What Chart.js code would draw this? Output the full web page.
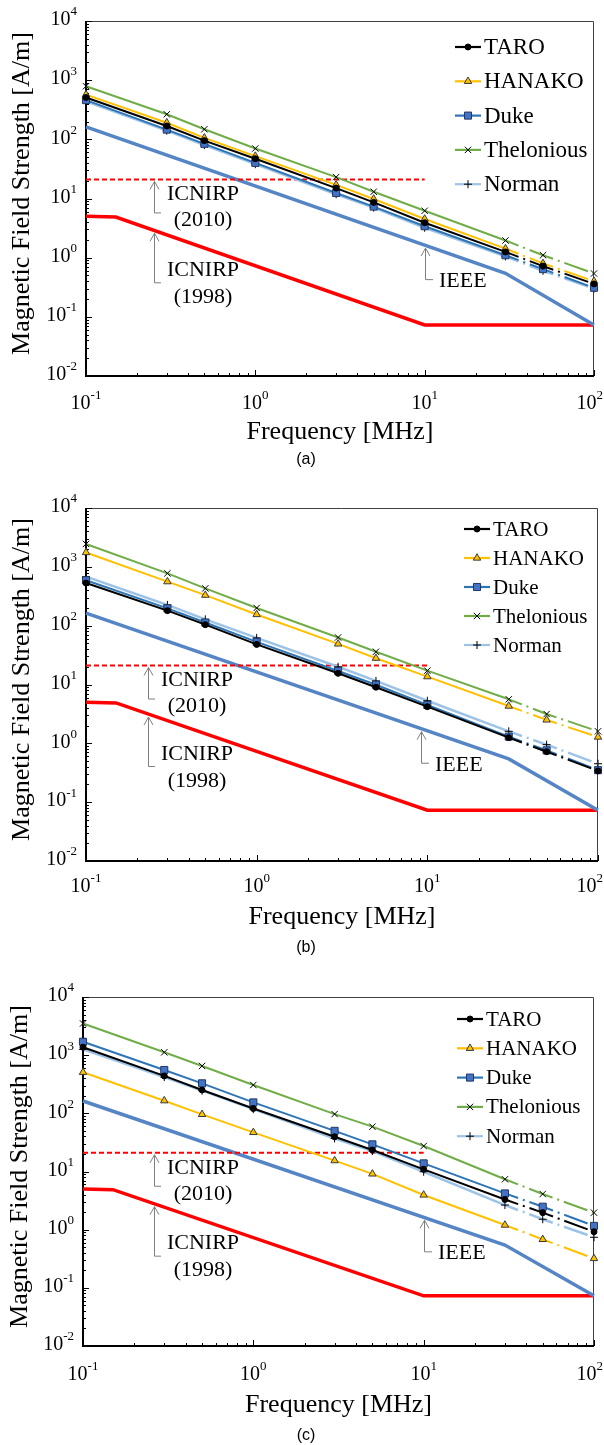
<!DOCTYPE html>
<html>
<head>
<meta charset="utf-8">
<script src="https://cdn.jsdelivr.net/npm/chart.js@4/dist/chart.umd.min.js"></script>
<style>
body { margin: 0; background: #fff; width: 604px; height: 1445px; overflow: hidden; }
.panel { position: absolute; left: 0; width: 604px; }
canvas { display: block; }
</style>
</head>
<body>
<div class="panel" style="top:0"><canvas id="chartA" width="604" height="480"></canvas></div>
<div class="panel" style="top:480px"><canvas id="chartB" width="604" height="480"></canvas></div>
<div class="panel" style="top:960px"><canvas id="chartC" width="604" height="485"></canvas></div>
<script>
// frequencies (MHz) of the measured points
const freq = [0.1, 0.3, 0.5, 1, 3, 5, 10, 30, 50, 100];
const seriesNames = ['TARO', 'HANAKO', 'Duke', 'Thelonious', 'Norman'];

// (a)
const taroA   = [510, 168, 95, 47, 15, 8.6, 3.9, 1.25, 0.72, 0.36];
const hanakoA = [570, 191, 106, 52, 17, 9.8, 4.5, 1.42, 0.80, 0.40];
const dukeA   = [460, 146, 84, 40, 12.4, 7.3, 3.4, 1.1, 0.64, 0.31];
const thelA   = [790, 265, 148, 70, 23, 13, 6.2, 1.95, 1.1, 0.54];
const normanA = [440, 140, 80, 38, 11.8, 7, 3.2, 1.05, 0.6, 0.3];
// (b)
const taroB   = [530, 180, 104, 48, 15.5, 9, 4.2, 1.25, 0.72, 0.34];
const hanakoB = [1750, 560, 330, 155, 49, 28, 13.6, 4.3, 2.5, 1.28];
const dukeB   = [590, 197, 113, 53, 17, 9.9, 4.5, 1.3, 0.76, 0.35];
const thelB   = [2450, 775, 430, 200, 63, 36, 17.2, 5.6, 3.15, 1.6];
const normanB = [680, 225, 128, 62, 20, 11.5, 5.3, 1.6, 0.95, 0.45];
// (c)
const taroC   = [1370, 440, 252, 121, 39.5, 23.4, 10.9, 3.3, 1.96, 0.92];
const hanakoC = [508, 165, 96, 47, 15.4, 9.1, 3.95, 1.2, 0.68, 0.32];
const dukeC   = [1700, 556, 328, 154, 50, 29.3, 13.8, 4.2, 2.48, 1.16];
const thelC   = [3500, 1120, 652, 307, 97, 59, 27.4, 7.35, 4.1, 1.96];
const normanC = [1260, 420, 245, 118, 37, 22.5, 9.9, 2.65, 1.51, 0.74];

// exposure limits
const ieeeX = [0.1, 30, 100];
const ieeeY = [163, 0.543, 0.0728];
const icnirp98X = [0.1, 0.15, 10, 100];
const icnirp98Y = [5, 4.87, 0.073, 0.073];
const icnirp10X = [0.1, 10];
const icnirp10Y = [21, 21];

const xDecades = [-1, 0, 1, 2];
const yDecades = [-2, -1, 0, 1, 2, 3, 4];

const SERIF = '"Liberation Serif", "Times New Roman", serif';

const seriesStyle = [
  { color: '#000000', point: 'circle',   r: 3,   fill: '#000000', edge: '#000000' },
  { color: '#FFC000', point: 'triangle', r: 4.3, fill: '#FFC000', edge: '#3a3a3a' },
  { color: '#2E75B6', point: 'rect',     r: 5,   fill: '#4472C4', edge: '#1F3864' },
  { color: '#70AD47', point: 'crossRot', r: 4.5, fill: '#000000', edge: '#000000' },
  { color: '#9DC3E6', point: 'cross',    r: 4,   fill: '#000000', edge: '#000000' }
];

const panels = [
  { id: 'chartA', h: 480, top: 21, bottom: 376, left: 86, right: 594, series: [taroA, hanakoA, dukeA, thelA, normanA],
    tickY: 404, titleY: 432, capY: 460, cap: '(a)', yTitleX: 22,
    legX: 455, legY: 47, legGap: 34.3, legFont: 23, arrowF: 0.252, ieeeF: 10 },
  { id: 'chartB', h: 480, top: 28, bottom: 381, left: 86, right: 599, series: [taroB, hanakoB, dukeB, thelB, normanB],
    tickY: 407, titleY: 437, capY: 468, cap: '(b)', yTitleX: 22,
    legX: 464, legY: 49, legGap: 29, legFont: 21, arrowF: 0.232, ieeeF: 9.2 },
  { id: 'chartC', h: 485, top: 37, bottom: 386, left: 83, right: 594, series: [taroC, hanakoC, dukeC, thelC, normanC],
    tickY: 415, titleY: 445, capY: 476, cap: '(c)', yTitleX: 20.5,
    legX: 457, legY: 59, legGap: 29.3, legFont: 21, arrowF: 0.261, ieeeF: 10 }
];

function pts(xs, ys) {
  return xs.map((x, i) => ({ x: x, y: ys[i] }));
}

// value of a polyline (log-log) at f, used to place the arrows
function logInterp(xs, ys, f) {
  for (let i = 0; i < xs.length - 1; i++) {
    if (f >= xs[i] && f <= xs[i + 1]) {
      const t = (Math.log10(f) - Math.log10(xs[i])) / (Math.log10(xs[i + 1]) - Math.log10(xs[i]));
      return Math.pow(10, Math.log10(ys[i]) + t * (Math.log10(ys[i + 1]) - Math.log10(ys[i])));
    }
  }
  return ys[ys.length - 1];
}

function drawPow(ctx, exp, x, y, align) {
  ctx.font = '20px ' + SERIF;
  const w1 = ctx.measureText('10').width;
  ctx.font = '13px ' + SERIF;
  const w2 = ctx.measureText(exp).width;
  let x0 = align === 'right' ? x - w1 - w2 : x - (w1 + w2) / 2;
  if (x0 + w1 + w2 > 603) x0 = 603 - w1 - w2; // keep the last label inside the page
  ctx.textAlign = 'left';
  ctx.textBaseline = 'middle';
  ctx.fillStyle = '#000';
  ctx.font = '20px ' + SERIF;
  ctx.fillText('10', x0, y);
  ctx.font = '13px ' + SERIF;
  ctx.fillText(exp, x0 + w1, y - 8);
}

function drawArrow(ctx, ax, tip, bottom, leg) {
  ctx.save();
  ctx.strokeStyle = '#7f7f7f';
  ctx.lineWidth = 1;
  ctx.beginPath();
  ctx.moveTo(ax + 0.5, tip);
  ctx.lineTo(ax + 0.5, bottom + 0.5);
  ctx.lineTo(ax + leg, bottom + 0.5);
  ctx.moveTo(ax - 4, tip + 8);
  ctx.lineTo(ax + 0.5, tip);
  ctx.lineTo(ax + 5, tip + 8);
  ctx.stroke();
  ctx.restore();
}

function makePlugin(p) {
  return {
    id: 'decor',
    beforeDatasetsDraw(chart) {
      const ctx = chart.ctx;
      const a = chart.chartArea;
      const xs = chart.scales.x, ys = chart.scales.y;
      ctx.save();
      // thin top/right frame
      ctx.strokeStyle = '#404040';
      ctx.lineWidth = 1;
      ctx.beginPath();
      ctx.moveTo(a.left, a.top + 0.5);
      ctx.lineTo(a.right - 0.5, a.top + 0.5);
      ctx.lineTo(a.right - 0.5, a.bottom);
      ctx.stroke();
      // inward ticks
      ctx.strokeStyle = '#000';
      ctx.beginPath();
      yDecades.forEach(k => {
        for (let m = 1; m <= 9; m++) {
          if (k === 4 && m > 1) break;
          const y = Math.round(ys.getPixelForValue(m * Math.pow(10, k))) + 0.5;
          const len = m === 1 ? 6 : 3;
          ctx.moveTo(a.left, y);
          ctx.lineTo(a.left + len, y);
        }
      });
      xDecades.forEach(k => {
        for (let m = 1; m <= 9; m++) {
          if (k === 2 && m > 1) break;
          const x = Math.round(xs.getPixelForValue(m * Math.pow(10, k))) + 0.5;
          const len = m === 1 ? 6 : 3;
          ctx.moveTo(x, a.bottom);
          ctx.lineTo(x, a.bottom - len);
        }
      });
      ctx.stroke();
      // main axes
      ctx.lineWidth = 2;
      ctx.beginPath();
      ctx.moveTo(a.left, a.top);
      ctx.lineTo(a.left, a.bottom);
      ctx.lineTo(a.right, a.bottom);
      ctx.stroke();
      ctx.restore();
    },
    afterDatasetsDraw(chart) {
      const ctx = chart.ctx;
      const a = chart.chartArea;
      const xs = chart.scales.x, ys = chart.scales.y;
      ctx.save();
      // tick labels
      yDecades.forEach(k => drawPow(ctx, String(k), a.left - 9, ys.getPixelForValue(Math.pow(10, k)) - 1, 'right'));
      xDecades.forEach(k => drawPow(ctx, String(k), xs.getPixelForValue(Math.pow(10, k)), p.tickY, 'center'));
      // axis titles
      ctx.fillStyle = '#000';
      ctx.textAlign = 'center';
      ctx.textBaseline = 'middle';
      ctx.font = '26px ' + SERIF;
      ctx.fillText('Frequency [MHz]', (a.left + a.right) / 2, p.titleY);
      ctx.save();
      ctx.translate(p.yTitleX, (a.top + a.bottom) / 2 - 5);
      ctx.rotate(-Math.PI / 2);
      ctx.fillText('Magnetic Field Strength [A/m]', 0, 0);
      ctx.restore();
      ctx.font = '16px "Liberation Sans", Arial, sans-serif';
      ctx.fillText(p.cap, 306, p.capY);

      // legend
      seriesNames.forEach((name, i) => {
        const s = seriesStyle[i];
        const y = p.legY + i * p.legGap;
        ctx.strokeStyle = s.color;
        ctx.lineWidth = 2.2;
        ctx.beginPath();
        ctx.moveTo(p.legX, y);
        ctx.lineTo(p.legX + 26, y);
        ctx.stroke();
        ctx.fillStyle = s.fill;
        ctx.strokeStyle = s.edge;
        ctx.lineWidth = 1;
        Chart.helpers.drawPoint(ctx, { pointStyle: s.point, radius: s.r, rotation: 0, borderWidth: 1 }, p.legX + 13, y);
        ctx.fillStyle = '#000';
        ctx.textAlign = 'left';
        ctx.textBaseline = 'middle';
        ctx.font = p.legFont + 'px ' + SERIF;
        ctx.fillText(name, p.legX + 29, y + 1);
      });

      // annotations
      ctx.font = '22px ' + SERIF;
      ctx.fillStyle = '#000';
      ctx.textBaseline = 'middle';
      const ax = Math.round(xs.getPixelForValue(p.arrowF));
      let tip = ys.getPixelForValue(icnirp10Y[0]) + 2;
      drawArrow(ctx, ax, tip, tip + 31, 7);
      ctx.textAlign = 'center';
      ctx.fillText('ICNIRP', ax + 49, tip + 13);
      ctx.fillText('(2010)', ax + 49, tip + 39);

      tip = ys.getPixelForValue(logInterp(icnirp98X, icnirp98Y, p.arrowF)) + 3;
      drawArrow(ctx, ax, tip, tip + 49, 7);
      ctx.fillText('ICNIRP', ax + 49, tip + 37);
      ctx.fillText('(1998)', ax + 49, tip + 64);

      const ix = Math.round(xs.getPixelForValue(p.ieeeF));
      tip = ys.getPixelForValue(logInterp(ieeeX, ieeeY, p.ieeeF)) + 3;
      drawArrow(ctx, ix, tip, tip + 31, 8);
      ctx.textAlign = 'left';
      ctx.fillText('IEEE', ix + 14, tip + 33);
      ctx.restore();
    }
  };
}

const dashSeg = {
  borderDash: c => (c.p0.parsed.x >= 29 ? [25, 5, 2, 5] : undefined),
  borderDashOffset: c => (c.p0.parsed.x >= 29 ? 11 : undefined)
};

panels.forEach(p => {
  const datasets = p.series.map((vals, i) => {
    const s = seriesStyle[i];
    return {
      label: seriesNames[i],
      data: pts(freq, vals),
      borderColor: s.color,
      borderWidth: i === 4 ? 2.5 : 2,
      pointStyle: s.point,
      pointRadius: s.r,
      pointBackgroundColor: s.fill,
      pointBorderColor: s.edge,
      pointBorderWidth: 1,
      segment: dashSeg,
      clip: false,
      tension: 0
    };
  });
  datasets.push({
    label: 'ICNIRP (2010)', data: pts(icnirp10X, icnirp10Y), borderColor: '#FF0000',
    borderWidth: 2, borderDash: [5, 3], pointRadius: 0, clip: false
  });
  datasets.push({
    label: 'IEEE', data: pts(ieeeX, ieeeY), borderColor: '#5585C5',
    borderWidth: 3.5, pointRadius: 0, clip: false
  });
  datasets.push({
    label: 'ICNIRP (1998)', data: pts(icnirp98X, icnirp98Y), borderColor: '#FF0000',
    borderWidth: 3.5, pointRadius: 0, clip: false
  });

  new Chart(document.getElementById(p.id), {
    type: 'line',
    data: { datasets: datasets },
    options: {
      responsive: false,
      animation: false,
      events: [],
      layout: { padding: { top: p.top, right: 604 - p.right, left: 0, bottom: 0 } },
      plugins: { legend: { display: false }, tooltip: { enabled: false } },
      scales: {
        x: {
          type: 'logarithmic', min: 0.1, max: 100,
          ticks: { display: false }, grid: { display: false }, border: { display: false },
          afterFit: s => { s.height = p.h - p.bottom; }
        },
        y: {
          type: 'logarithmic', min: 0.01, max: 10000,
          ticks: { display: false }, grid: { display: false }, border: { display: false },
          afterFit: s => { s.width = p.left; }
        }
      }
    },
    plugins: [makePlugin(p)]
  });
});
</script>
</body>
</html>
